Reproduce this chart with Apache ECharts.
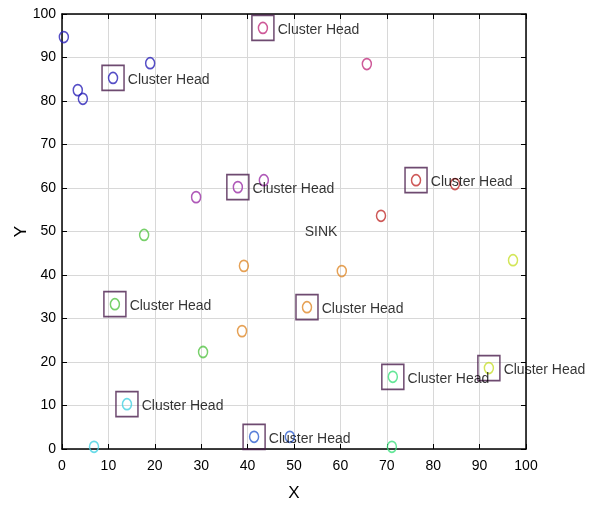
<!DOCTYPE html>
<html>
<head>
<meta charset="utf-8">
<script src="https://cdn.jsdelivr.net/npm/echarts@6/dist/echarts.min.js"></script>
<style>html,body{margin:0;padding:0;background:#fff;}#c{width:590px;height:505px;}</style>
</head>
<body>
<div id="c"></div>
<script>
// Tick labels
const xTicks = [0,10,20,30,40,50,60,70,80,90,100];
const yTicks = [0,10,20,30,40,50,60,70,80,90,100];

// Cluster member nodes [x, y]
const nodesDarkBlue = [[0.4,94.7],[3.4,82.5],[4.5,80.5],[19,88.7],[11,85.3]];
const nodesPurple   = [[28.9,57.9],[43.5,61.8],[37.9,60.2]];
const nodesPink     = [[43.3,96.8],[65.7,88.5]];
const nodesRed      = [[76.3,61.8],[68.75,53.6],[84.7,60.9]];
const nodesGreen    = [[17.7,49.2],[30.4,22.3],[11.4,33.3]];
const nodesOrange   = [[39.2,42.1],[38.8,27.1],[60.3,40.9],[52.8,32.6]];
const nodesCyan     = [[6.9,0.5],[14,10.3]];
const nodesBlue     = [[41.4,2.8],[49.1,2.8]];
const nodesSpring   = [[71.3,16.6],[71.1,0.5]];
const nodesLime     = [[97.2,43.4],[92,18.6]];

// Cluster heads [x, y]
const clusterHeads = [[11,85.3],[43.3,96.8],[37.9,60.2],[76.3,61.8],[11.4,33.3],[52.8,32.6],[14,10.3],[41.4,2.8],[71.3,16.6],[92,18.6]];
const headLabel = 'Cluster Head';

// Sink label
const sink = [[52.3,49.8]];
const sinkLabel = 'SINK';

const groups = [
  {data: nodesDarkBlue, color: '#2a22b8'},
  {data: nodesPurple, color: '#9b2fa6'},
  {data: nodesPink, color: '#c2307e'},
  {data: nodesRed, color: '#c2302e'},
  {data: nodesGreen, color: '#55c445'},
  {data: nodesOrange, color: '#e08a2a'},
  {data: nodesCyan, color: '#45d2e2'},
  {data: nodesBlue, color: '#2f5fcf'},
  {data: nodesSpring, color: '#3fe07e'},
  {data: nodesLime, color: '#c8e030'}
];

const font = 'Liberation Sans, Arial, sans-serif';
const series = groups.map(g => ({
  type: 'scatter',
  data: g.data,
  symbol: 'circle',
  symbolSize: [9, 11],
  itemStyle: {color: 'rgba(0,0,0,0)', borderColor: g.color, borderWidth: 1.6},
  z: 3,
  silent: true
}));
series.push({
  type: 'scatter',
  data: clusterHeads,
  symbol: 'rect',
  symbolSize: [22, 25],
  itemStyle: {color: 'rgba(0,0,0,0)', borderColor: '#4a1d4c', borderWidth: 1.6},
  label: {show: true, position: 'right', distance: 3, offset: [0, 2], formatter: headLabel, color: '#000', fontSize: 14, fontFamily: font},
  z: 4,
  silent: true
});
series.push({
  type: 'scatter',
  data: sink,
  symbolSize: 0,
  label: {show: true, position: 'right', distance: 0, formatter: sinkLabel, color: '#000', fontSize: 14, fontFamily: font},
  z: 4,
  silent: true
});

const baseAxis = {
  min: 0, max: 100, interval: 10,
  axisLine: {show: true, onZero: false, lineStyle: {color: '#000', width: 1.5}},
  axisTick: {show: true, inside: true, length: 5, lineStyle: {color: '#000'}},
  splitLine: {show: true, lineStyle: {color: '#d8d8d8', width: 1}},
  axisLabel: {color: '#000', fontSize: 14, fontFamily: font}
};

const chart = echarts.init(document.getElementById('c'));
chart.setOption({
  animation: false,
  backgroundColor: '#fff',
  grid: {left: 62, right: 64, top: 14, bottom: 56, containLabel: false, outerBoundsMode: 'none'},
  xAxis: [
    Object.assign({}, baseAxis, {type: 'value', position: 'bottom', name: 'X', nameLocation: 'middle', nameGap: 36, nameMoveOverlap: false,
      nameTextStyle: {fontSize: 17, color: '#000', fontFamily: font},
      axisLabel: Object.assign({}, baseAxis.axisLabel, {margin: 10, formatter: v => xTicks.includes(v) ? String(v) : ''})}),
    Object.assign({}, baseAxis, {type: 'value', position: 'top', splitLine: {show: false}, axisLabel: {show: false}})
  ],
  yAxis: [
    Object.assign({}, baseAxis, {type: 'value', position: 'left', name: 'Y', nameLocation: 'middle', nameGap: 32, nameMoveOverlap: false,
      nameTextStyle: {fontSize: 17, color: '#000', fontFamily: font},
      axisLabel: Object.assign({}, baseAxis.axisLabel, {margin: 6, formatter: v => yTicks.includes(v) ? String(v) : ''})}),
    Object.assign({}, baseAxis, {type: 'value', position: 'right', splitLine: {show: false}, axisLabel: {show: false}})
  ],
  series: series
});
</script>
</body>
</html>
